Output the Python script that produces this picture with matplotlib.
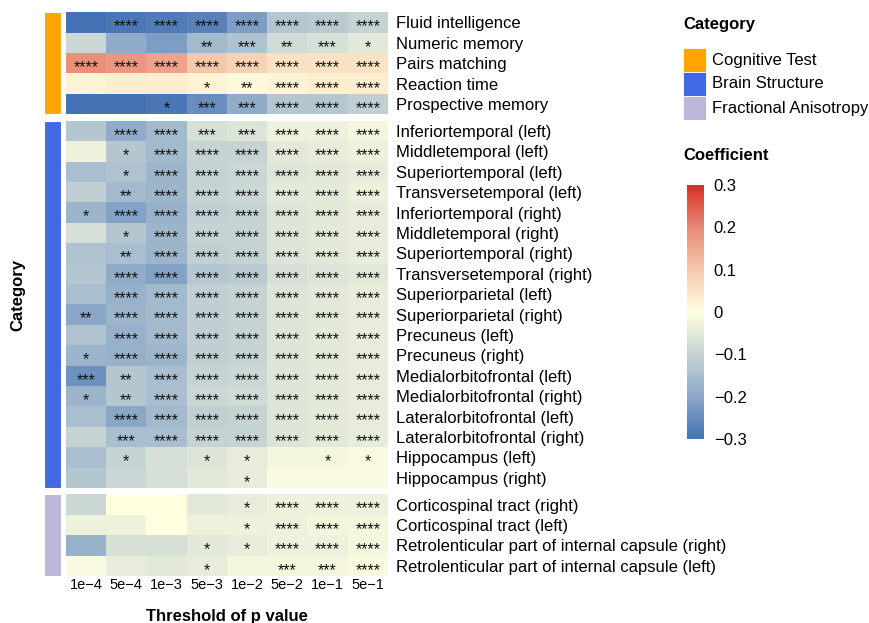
import numpy as np
import matplotlib
matplotlib.use("Agg")
import matplotlib.pyplot as plt
from matplotlib.colors import LinearSegmentedColormap, Normalize
import matplotlib as mpl

plt.rcParams["font.family"] = ["Liberation Sans", "DejaVu Sans"]

thresholds = ["1e\u22124", "5e\u22124", "1e\u22123", "5e\u22123", "1e\u22122", "5e\u22122", "1e\u22121", "5e\u22121"]

group_names = ["Cognitive Test", "Brain Structure", "Fractional Anisotropy"]
group_colors = ["#FFA500", "#4169E1", "#BDB5DA"]

cog_labels = ["Fluid intelligence", "Numeric memory", "Pairs matching",
              "Reaction time", "Prospective memory"]
cog_coef = [
    [-0.30, -0.29, -0.28, -0.27, -0.22, -0.13, -0.12, -0.10],
    [-0.09, -0.19, -0.22, -0.16, -0.14, -0.08, -0.07, -0.05],
    [0.19, 0.18, 0.16, 0.10, 0.08, 0.05, 0.05, 0.05],
    [0.02, 0.03, 0.03, 0.02, 0.01, 0.02, 0.03, 0.03],
    [-0.30, -0.30, -0.29, -0.25, -0.19, -0.13, -0.13, -0.11],
]
cog_sig = [
    ["", "****", "****", "****", "****", "****", "****", "****"],
    ["", "", "", "**", "***", "**", "***", "*"],
    ["****", "****", "****", "****", "****", "****", "****", "****"],
    ["", "", "", "*", "**", "****", "****", "****"],
    ["", "", "*", "***", "***", "****", "****", "****"],
]

brain_labels = ["Inferiortemporal (left)", "Middletemporal (left)", "Superiortemporal (left)",
                "Transversetemporal (left)", "Inferiortemporal (right)", "Middletemporal (right)",
                "Superiortemporal (right)", "Transversetemporal (right)", "Superiorparietal (left)",
                "Superiorparietal (right)", "Precuneus (left)", "Precuneus (right)",
                "Medialorbitofrontal (left)", "Medialorbitofrontal (right)",
                "Lateralorbitofrontal (left)", "Lateralorbitofrontal (right)",
                "Hippocampus (left)", "Hippocampus (right)"]
brain_coef = [
    [-0.13, -0.19, -0.16, -0.07, -0.06, -0.03, -0.03, -0.02],
    [-0.03, -0.13, -0.16, -0.10, -0.10, -0.05, -0.04, -0.03],
    [-0.15, -0.14, -0.17, -0.10, -0.09, -0.06, -0.05, -0.04],
    [-0.11, -0.16, -0.17, -0.10, -0.09, -0.05, -0.05, -0.03],
    [-0.17, -0.21, -0.18, -0.11, -0.10, -0.06, -0.05, -0.04],
    [-0.07, -0.13, -0.17, -0.10, -0.10, -0.06, -0.05, -0.04],
    [-0.14, -0.15, -0.17, -0.11, -0.10, -0.06, -0.05, -0.04],
    [-0.13, -0.19, -0.21, -0.13, -0.12, -0.07, -0.06, -0.05],
    [-0.15, -0.18, -0.16, -0.11, -0.10, -0.06, -0.05, -0.04],
    [-0.20, -0.17, -0.16, -0.11, -0.10, -0.06, -0.05, -0.04],
    [-0.14, -0.18, -0.16, -0.11, -0.10, -0.06, -0.05, -0.04],
    [-0.17, -0.18, -0.17, -0.11, -0.10, -0.06, -0.05, -0.04],
    [-0.24, -0.13, -0.15, -0.10, -0.09, -0.06, -0.05, -0.04],
    [-0.17, -0.13, -0.15, -0.09, -0.08, -0.06, -0.05, -0.04],
    [-0.15, -0.20, -0.16, -0.11, -0.10, -0.06, -0.05, -0.04],
    [-0.10, -0.15, -0.15, -0.10, -0.10, -0.06, -0.05, -0.04],
    [-0.15, -0.10, -0.07, -0.06, -0.04, -0.02, -0.02, -0.01],
    [-0.13, -0.09, -0.07, -0.05, -0.04, -0.01, -0.01, -0.01],
]
brain_sig = [
    ["", "****", "****", "***", "***", "****", "****", "****"],
    ["", "*", "****", "****", "****", "****", "****", "****"],
    ["", "*", "****", "****", "****", "****", "****", "****"],
    ["", "**", "****", "****", "****", "****", "****", "****"],
    ["*", "****", "****", "****", "****", "****", "****", "****"],
    ["", "*", "****", "****", "****", "****", "****", "****"],
    ["", "**", "****", "****", "****", "****", "****", "****"],
    ["", "****", "****", "****", "****", "****", "****", "****"],
    ["", "****", "****", "****", "****", "****", "****", "****"],
    ["**", "****", "****", "****", "****", "****", "****", "****"],
    ["", "****", "****", "****", "****", "****", "****", "****"],
    ["*", "****", "****", "****", "****", "****", "****", "****"],
    ["***", "**", "****", "****", "****", "****", "****", "****"],
    ["*", "**", "****", "****", "****", "****", "****", "****"],
    ["", "****", "****", "****", "****", "****", "****", "****"],
    ["", "***", "****", "****", "****", "****", "****", "****"],
    ["", "*", "", "*", "*", "", "*", "*"],
    ["", "", "", "", "*", "", "", ""],
]

fa_labels = ["Corticospinal tract (right)", "Corticospinal tract (left)",
             "Retrolenticular part of internal capsule (right)",
             "Retrolenticular part of internal capsule (left)"]
fa_coef = [
    [-0.09, 0.00, 0.00, -0.05, -0.04, -0.03, -0.03, -0.03],
    [-0.03, -0.03, 0.00, -0.03, -0.03, -0.03, -0.02, -0.02],
    [-0.18, -0.07, -0.07, -0.05, -0.04, -0.03, -0.03, -0.02],
    [-0.01, -0.04, -0.05, -0.04, -0.02, -0.02, -0.02, -0.01],
]
fa_sig = [
    ["", "", "", "", "*", "****", "****", "****"],
    ["", "", "", "", "*", "****", "****", "****"],
    ["", "", "", "*", "*", "****", "****", "****"],
    ["", "", "", "*", "", "***", "***", "****"],
]

groups = [(cog_labels, cog_coef, cog_sig),
          (brain_labels, brain_coef, brain_sig),
          (fa_labels, fa_coef, fa_sig)]

cmap = LinearSegmentedColormap.from_list("coef", [
    (0.0, "#4472B4"), (1 / 6, "#8CA8C8"), (2 / 6, "#C6D3D3"), (0.5, "#FFFFE0"),
    (4 / 6, "#F5C8AB"), (5 / 6, "#E88A76"), (1.0, "#D73027")])
norm = Normalize(-0.3, 0.3)

W, H = 870, 623
fig = plt.figure(figsize=(W / 100, H / 100), dpi=100)


def rect(x0, y0, x1, y1):
    return [x0 / W, 1 - y1 / H, (x1 - x0) / W, (y1 - y0) / H]


gap = 0.32
ax = fig.add_axes(rect(66, 12.3, 388, 576))
ann = fig.add_axes(rect(44, 12.3, 61, 576))

offset = 0
centers, labels = [], []
for gi, (lab, coef, sig) in enumerate(groups):
    n = len(lab)
    ys = np.arange(n + 1) + offset
    ax.pcolormesh(np.arange(len(thresholds) + 1), ys, np.array(coef),
                  cmap=cmap, norm=norm, edgecolor="none")
    for i in range(n):
        for j in range(len(thresholds)):
            if sig[i][j]:
                ax.text(j + 0.5, offset + i + 0.72, sig[i][j], ha="center", va="center",
                        fontsize=11.5, color="#111111")
        centers.append(offset + i + 0.5)
        labels.append(lab[i])
    ann.barh(offset + n / 2, 1, height=n, left=0, color=group_colors[gi],
             edgecolor="white", linewidth=0.8)
    offset += n + gap

total = offset - gap
for a in (ax, ann):
    a.set_ylim(total, 0)
    for s in a.spines.values():
        s.set_visible(False)
ann.set_xlim(0, 1)
ann.set_xticks([])
ann.set_yticks([])

ax.set_xlim(0, len(thresholds))
ax.set_xticks(np.arange(len(thresholds)) + 0.5)
ax.set_xticklabels(thresholds, fontsize=10.5)
ax.set_yticks(centers)
ax.set_yticklabels(labels, fontsize=12)
ax.yaxis.tick_right()
ax.tick_params(length=0, axis="y", pad=6)
ax.tick_params(length=0, axis="x", pad=1.5)
ax.set_xlabel("Threshold of p value", fontsize=12, fontweight="bold", labelpad=12)

fig.text(18 / W, 1 - 295 / H, "Category", rotation=90, ha="center", va="center",
         fontsize=12, fontweight="bold")

# category legend
fig.text(683 / W, 1 - 25 / H, "Category", ha="left", va="center",
         fontsize=12, fontweight="bold")
leg_ax = fig.add_axes(rect(683, 48, 870, 120))
leg_ax.set_axis_off()
leg_ax.set_xlim(0, 187)
leg_ax.set_ylim(3, 0)
for i, (name, col) in enumerate(zip(group_names, group_colors)):
    leg_ax.barh(i + 0.5, 23, height=1, left=0, color=col, edgecolor="white", linewidth=0.6)
    leg_ax.text(29, i + 0.5, name, ha="left", va="center", fontsize=12)

# colorbar
fig.text(683 / W, 1 - 155 / H, "Coefficient", ha="left", va="center",
         fontsize=12, fontweight="bold")
cax = fig.add_axes(rect(687, 185, 704, 439))
cb = fig.colorbar(mpl.cm.ScalarMappable(norm=norm, cmap=cmap), cax=cax)
cb.outline.set_visible(False)
cb.set_ticks([-0.3, -0.2, -0.1, 0, 0.1, 0.2, 0.3])
cb.set_ticklabels(["\u22120.3", "\u22120.2", "\u22120.1", "0", "0.1", "0.2", "0.3"])
cax.tick_params(length=0, labelsize=12, pad=7)

fig.savefig("out.png", dpi=100)
